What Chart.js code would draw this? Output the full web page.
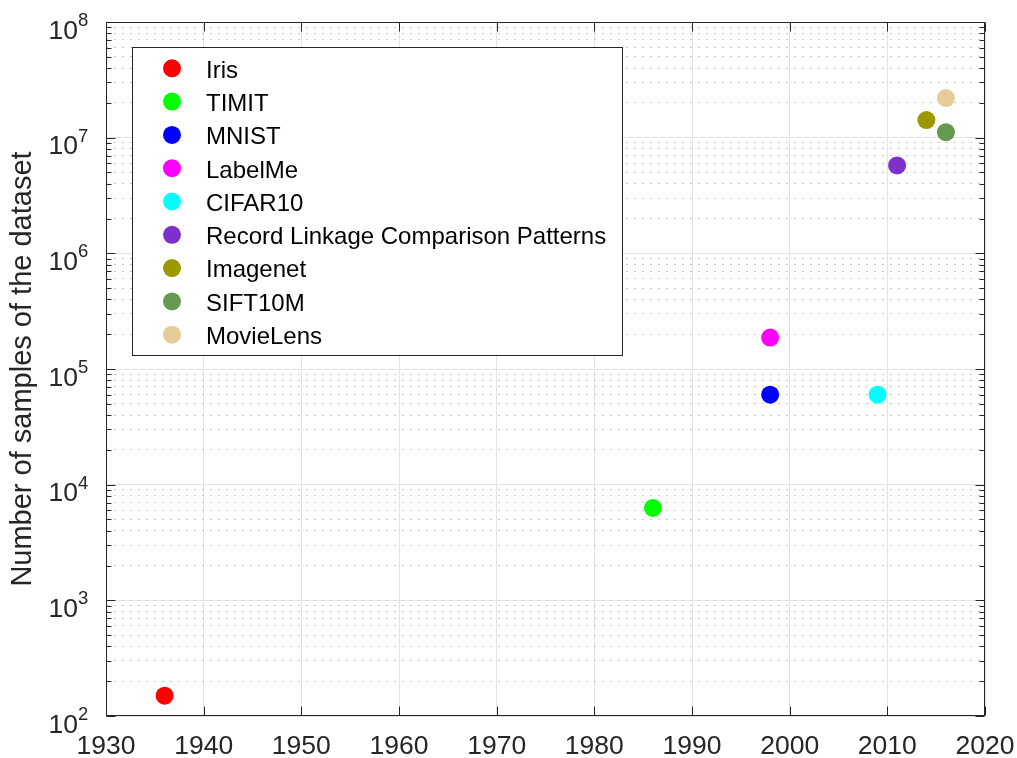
<!DOCTYPE html>
<html><head><meta charset="utf-8">
<script src="https://cdn.jsdelivr.net/npm/chart.js@4/dist/chart.umd.min.js"></script>
<style>html,body{margin:0;padding:0;background:#fff}canvas{display:block}</style>
</head><body>
<canvas id="c" width="1017" height="758"></canvas>
<script>
const datasetNames = ['Iris','TIMIT','MNIST','LabelMe','CIFAR10','Record Linkage Comparison Patterns','Imagenet','SIFT10M','MovieLens'];
const years = [1936,1986,1998,1998,2009,2011,2014,2016,2016];
const samples = [150,6300,60000,187000,60000,5750000,14200000,11160000,22000000];
const colors = ['#ff0000','#00ff00','#0000ff','#ff00ff','#00ffff','#7e2fcc','#9c9900','#669950','#e6cc99'];
const xTicks = [1930,1940,1950,1960,1970,1980,1990,2000,2010,2020];
const yDecades = [2,3,4,5,6,7,8];
const yLabel = 'Number of samples of the dataset';

const FONT = '"Liberation Sans", Arial, Helvetica, sans-serif';
const AX = '#262626';
const isDecade = v => Math.abs(Math.log10(v) - Math.round(Math.log10(v))) < 1e-9;
const yTickValues = [];
yDecades.forEach((e, k) => {
  if (k === yDecades.length - 1) { yTickValues.push(Math.pow(10, e)); return; }
  for (let m = 1; m <= 9; m++) yTickValues.push(m * Math.pow(10, e));
});

const matlabAxes = {
  id: 'matlabAxes',
  afterDatasetsDraw(chart) {
    const {ctx, chartArea: a, scales: {x, y}} = chart;
    ctx.save();
    ctx.strokeStyle = AX; ctx.lineWidth = 1; ctx.setLineDash([]);
    const L = Math.round(a.left) + 0.5, R = Math.round(a.right) - 0.5, T = Math.round(a.top) + 0.5, B = Math.round(a.bottom) - 0.5;
    ctx.strokeRect(L, T, R - L, B - T);
    ctx.beginPath();
    yTickValues.forEach(v => {
      const py = Math.round(y.getPixelForValue(v)) + 0.5;
      const len = isDecade(v) ? 9 : 5;
      ctx.moveTo(L, py); ctx.lineTo(L + len, py);
      ctx.moveTo(R, py); ctx.lineTo(R - len, py);
    });
    xTicks.forEach(v => {
      const px = Math.round(x.getPixelForValue(v)) + 0.5;
      ctx.moveTo(px, B); ctx.lineTo(px, B - 9);
      ctx.moveTo(px, T); ctx.lineTo(px, T + 9);
    });
    ctx.stroke();
    ctx.fillStyle = AX;
    yDecades.forEach(e => {
      const py = y.getPixelForValue(Math.pow(10, e));
      ctx.font = '26.5px ' + FONT; ctx.textAlign = 'right'; ctx.textBaseline = 'alphabetic';
      ctx.fillText('10', 78, py + 16.5);
      ctx.font = '18.5px ' + FONT; ctx.textAlign = 'left';
      ctx.fillText(String(e), 78, py + 4);
    });
    const lx = 132.5, ly = 47.5, lw = 490, lh = 308;
    ctx.fillStyle = '#fff'; ctx.fillRect(lx, ly, lw, lh);
    ctx.strokeStyle = AX; ctx.strokeRect(lx, ly, lw, lh);
    chart.data.datasets.forEach((ds, i) => {
      const cy = 68.3 + i * 33.3;
      ctx.beginPath(); ctx.arc(172, cy, 9, 0, Math.PI * 2);
      ctx.fillStyle = ds.backgroundColor; ctx.fill();
      ctx.fillStyle = '#000'; ctx.font = '24px ' + FONT; ctx.textAlign = 'left'; ctx.textBaseline = 'alphabetic';
      ctx.fillText(ds.label, 206, cy + 9.3);
    });
    ctx.restore();
  }
};

new Chart(document.getElementById('c'), {
  type: 'scatter',
  data: {
    datasets: datasetNames.map((n, i) => ({
      label: n,
      data: [{x: years[i], y: samples[i]}],
      backgroundColor: colors[i], borderColor: colors[i], borderWidth: 0,
      pointRadius: 9, pointHoverRadius: 9
    }))
  },
  options: {
    responsive: false, animation: false, devicePixelRatio: 1,
    layout: {padding: {top: 22, right: 32, left: 0, bottom: 0}},
    plugins: {legend: {display: false}, tooltip: {enabled: false}},
    scales: {
      x: {
        type: 'linear', min: 1930, max: 2020,
        afterBuildTicks: s => { s.ticks = xTicks.map(v => ({value: v})); },
        afterFit: s => { s.height = 42; s.paddingLeft = 0; s.paddingRight = 0; },
        ticks: {font: {family: FONT, size: 26.5}, color: AX, padding: 15, maxRotation: 0, autoSkip: false,
                callback: v => String(v)},
        grid: {color: '#e3e3e3', lineWidth: 1, drawTicks: false},
        border: {display: false}
      },
      y: {
        type: 'logarithmic', min: 100, max: 1e8,
        afterBuildTicks: s => { s.ticks = yTickValues.map(v => ({value: v})); },
        afterFit: s => { s.width = 106; s.paddingTop = 0; s.paddingBottom = 0; },
        ticks: {display: false, autoSkip: false},
        grid: {
          color: c => (c.tick && !isDecade(c.tick.value)) ? '#c8c8c8' : '#e3e3e3',
          lineWidth: 1, drawTicks: false
        },
        border: {display: false, dash: c => (c.tick && !isDecade(c.tick.value)) ? [2, 6] : []},
        title: {display: true, text: yLabel, color: AX, font: {family: FONT, size: 29, lineHeight: 1.2}, padding: {top: 6, bottom: 0}}
      }
    }
  },
  plugins: [matlabAxes]
});
</script>
</body></html>
